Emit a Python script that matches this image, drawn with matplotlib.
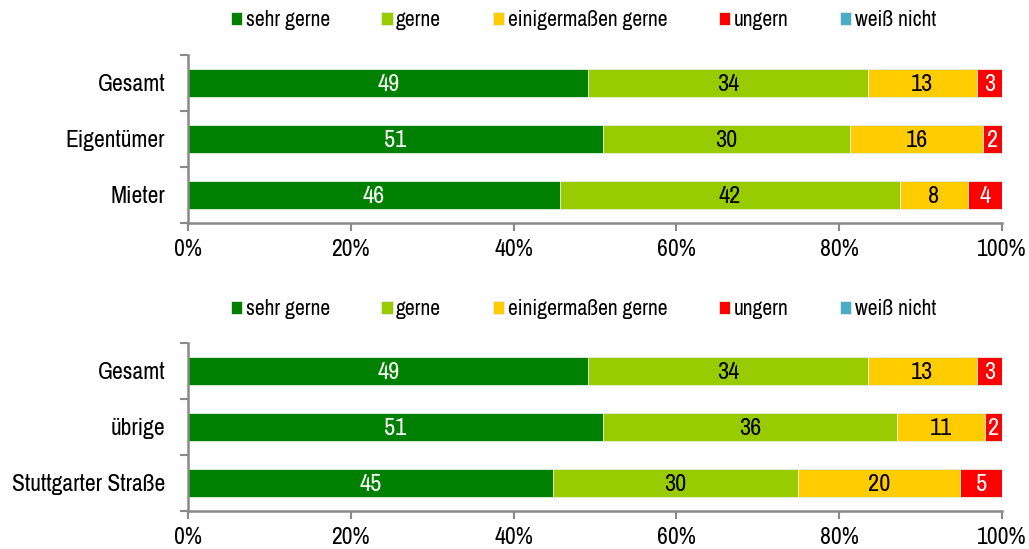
import matplotlib
matplotlib.use("Agg")
import matplotlib.pyplot as plt
from matplotlib import font_manager as fm
import numpy as np

# prefer a narrow sans face; fall back to the regular width
_available = {(f.name, f.stretch) for f in fm.fontManager.ttflist}
_narrow = [n for (n, s) in _available
           if s in ("condensed", "semi-condensed", "extra-condensed", 100, 75, 87)
           or "Narrow" in n or "Condensed" in n]
FONT_STRETCH = "normal"
if any(n == "Liberation Sans Narrow" for n, _ in _available):
    FAMILY = ["Liberation Sans Narrow", "DejaVu Sans"]
    NARROW = True
elif _narrow:
    FAMILY = [sorted(_narrow)[0], "DejaVu Sans"]
    FONT_STRETCH = "condensed"
    NARROW = True
else:
    FAMILY = ["Liberation Sans", "DejaVu Sans"]
    NARROW = False
plt.rcParams['font.family'] = FAMILY
plt.rcParams['font.stretch'] = FONT_STRETCH

# answer categories (legend order) and their colours
answers = ["sehr gerne", "gerne", "einigermaßen gerne", "ungern", "weiß nicht"]
colors = ["#008000", "#99CC00", "#FFCC00", "#FF0000", "#4BACC6"]
label_colors = ["white", "black", "black", "white", "white"]

# upper panel: owners vs. tenants (percent)
groups_top = ["Gesamt", "Eigentümer", "Mieter"]
sehr_gerne_top = [49.2, 51.0, 45.7]
gerne_top = [34.3, 30.3, 41.8]
einigermassen_top = [13.4, 16.4, 8.3]
ungern_top = [3.1, 2.3, 4.2]
weiss_nicht_top = [0.0, 0.0, 0.0]

# lower panel: by street (percent)
groups_bottom = ["Gesamt", "übrige", "Stuttgarter Straße"]
sehr_gerne_bottom = [49.2, 51.0, 44.8]
gerne_bottom = [34.3, 36.1, 30.1]
einigermassen_bottom = [13.4, 10.8, 20.0]
ungern_bottom = [3.1, 2.1, 5.1]
weiss_nicht_bottom = [0.0, 0.0, 0.0]

x_ticks = [0, 20, 40, 60, 80, 100]
x_ticklabels = ["0%", "20%", "40%", "60%", "80%", "100%"]

W, H = 1029, 549
fig = plt.figure(figsize=(W / 100, H / 100), dpi=100)

AXIS_GREY = "#898989"
FS_BIG = 17 if NARROW else 14.5
FS_VAL = 17.5 if NARROW else 14.5
FS_LEG = 15.5 if NARROW else 13


def draw_panel(ax, groups, series):
    y = np.arange(len(groups))
    left = np.zeros(len(groups))
    for vals, col, lcol, name in zip(series, colors, label_colors, answers):
        vals = np.asarray(vals, dtype=float)
        ax.barh(y, vals, left=left, height=0.5, color=col,
                edgecolor="#E6EEE0", linewidth=0.6, label=name)
        for yi, l, v in zip(y, left, vals):
            if v > 0:
                ax.text(l + v / 2, yi, f"{v:.0f}", ha="center",
                        va="center_baseline", fontsize=FS_VAL, color=lcol)
        left += vals

    ax.set_xlim(0, 100)
    ax.set_ylim(len(groups) - 0.5, -0.5)

    # category boundaries carry the ticks, names sit between them
    ax.set_yticks(np.arange(len(groups) + 1) - 0.5)
    ax.set_yticklabels([])
    ax.set_yticks(y, minor=True)
    ax.set_yticklabels(groups, minor=True, fontsize=FS_BIG)
    ax.tick_params(axis="y", which="minor", length=0, pad=16.5)
    ax.tick_params(axis="y", which="major", length=6, width=1.5, color=AXIS_GREY)

    ax.set_xticks(x_ticks)
    ax.set_xticklabels(x_ticklabels, fontsize=FS_BIG)
    ax.tick_params(axis="x", length=6, width=1.5, color=AXIS_GREY, pad=6)

    for s in ("top", "right"):
        ax.spines[s].set_visible(False)
    for s in ("left", "bottom"):
        ax.spines[s].set_color(AXIS_GREY)
        ax.spines[s].set_linewidth(1.8)


ax_l, ax_w = 188 / W, (1002 - 188) / W
ax1 = fig.add_axes([ax_l, 1 - 222.5 / H, ax_w, (222.5 - 55) / H])
ax2 = fig.add_axes([ax_l, 1 - 510.5 / H, ax_w, (510.5 - 343) / H])

draw_panel(ax1, groups_top, [sehr_gerne_top, gerne_top, einigermassen_top,
                             ungern_top, weiss_nicht_top])
draw_panel(ax2, groups_bottom, [sehr_gerne_bottom, gerne_bottom,
                                einigermassen_bottom, ungern_bottom,
                                weiss_nicht_bottom])

for ax, ly in ((ax1, 20), (ax2, 309)):
    handles, labels = ax.get_legend_handles_labels()
    fig.legend(handles, labels, loc="center", bbox_to_anchor=(583.5 / W, 1 - ly / H),
               ncol=5, frameon=False, fontsize=FS_LEG, handlelength=0.52,
               handleheight=0.52, handletextpad=0.17, columnspacing=2.4,
               borderaxespad=0, borderpad=0)

fig.savefig("out.png", dpi=100)
